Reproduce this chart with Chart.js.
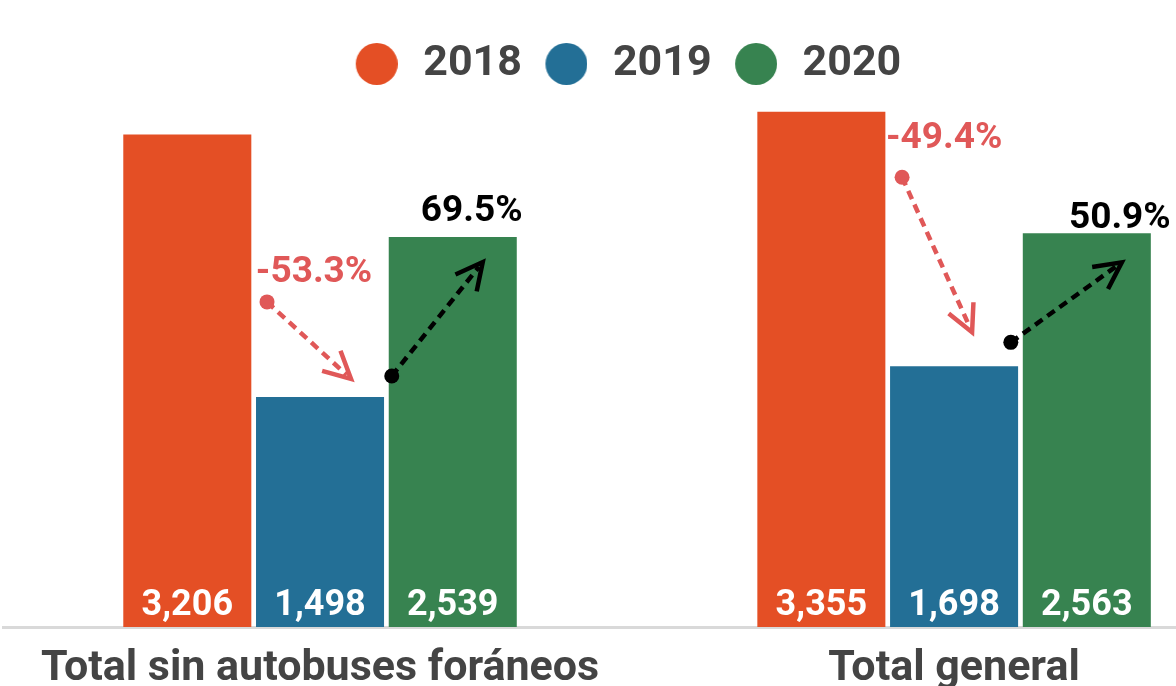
<!DOCTYPE html>
<html><head><meta charset="utf-8">
<script src="https://cdn.jsdelivr.net/npm/chart.js@4"></script>
<style>html,body{margin:0;padding:0;background:#fff;overflow:hidden}#wrap{width:1176px;height:686px;position:relative}</style>
</head><body><div id="wrap"><canvas id="c"></canvas></div>
<script>
const categories = ['Total sin autobuses foráneos', 'Total general'];
const categoryPositions = [0, 1];
const seriesLabels = ['2018', '2019', '2020'];
const values2018 = [3206, 3355];
const values2019 = [1498, 1698];
const values2020 = [2539, 2563];
const seriesColors = ['#E44F25', '#236F96', '#378350'];

const FONT = 'Roboto, "Liberation Sans", sans-serif';
const TEXT = '#444444';

// annotation placement (pixel offsets relative to bar centre/top), style only
const dropMarks = [
  {text: [-6, -124], dot: [-53, -95], tip: [31, -18]},
  {text: [-10, -227], dot: [-52, -189], tip: [18, -34]}
];
const riseMarks = [
  {text: [19, -25], dot: [-61, 139], tip: [30, 25]},
  {text: [33, -15], dot: [-76, 109], tip: [35, 29]}
];

function toPoints(vals) { return vals.map((v, i) => ({x: categoryPositions[i], y: v})); }
const allSeries = [values2018, values2019, values2020];

function circleImage(color) {
  const c = document.createElement('canvas');
  c.width = 50; c.height = 42;
  const g = c.getContext('2d');
  g.fillStyle = color;
  g.beginPath(); g.arc(29, 21, 21, 0, Math.PI * 2); g.fill();
  return c;
}

const datasets = allSeries.map((vals, k) => ({
  label: seriesLabels[k],
  data: toPoints(vals),
  backgroundColor: seriesColors[k],
  borderWidth: 0,
  pointStyle: circleImage(seriesColors[k]),
  categoryPercentage: 0.628,
  barPercentage: 0.9646
}));

function pctText(a, b) {
  const p = (b / a - 1) * 100;
  return p.toFixed(1) + '%';
}

function drawArrow(ctx, x1, y1, x2, y2, color) {
  ctx.save();
  ctx.strokeStyle = color; ctx.fillStyle = color;
  ctx.lineWidth = 4.5;
  ctx.beginPath(); ctx.arc(x1, y1, 7.5, 0, Math.PI * 2); ctx.fill();
  const ang = Math.atan2(y2 - y1, x2 - x1);
  const ex = x2 - Math.cos(ang) * 6, ey = y2 - Math.sin(ang) * 6;
  ctx.setLineDash([9, 6]);
  ctx.beginPath(); ctx.moveTo(x1, y1); ctx.lineTo(ex, ey); ctx.stroke();
  ctx.setLineDash([]);
  const L = 30, a = 0.47;
  ctx.lineCap = 'butt'; ctx.lineJoin = 'miter';
  ctx.beginPath();
  ctx.moveTo(x2 - L * Math.cos(ang - a), y2 - L * Math.sin(ang - a));
  ctx.lineTo(x2, y2);
  ctx.lineTo(x2 - L * Math.cos(ang + a), y2 - L * Math.sin(ang + a));
  ctx.stroke();
  ctx.restore();
}

const annotations = {
  id: 'annotations',
  afterDatasetsDraw(chart) {
    const ctx = chart.ctx;
    const m = [0, 1, 2].map(k => chart.getDatasetMeta(k).data);
    ctx.save();
    ctx.fillStyle = '#ffffff';
    ctx.font = 'bold 36px ' + FONT;
    ctx.textAlign = 'center'; ctx.textBaseline = 'alphabetic';
    allSeries.forEach((vals, k) => {
      vals.forEach((v, i) => {
        const b = m[k][i];
        ctx.fillText(v.toLocaleString('en-US'), b.x, b.base - 12);
      });
    });
    ctx.restore();
    categories.forEach((c, i) => {
      const b19 = m[1][i], b20 = m[2][i];
      const d = dropMarks[i], r = riseMarks[i];
      ctx.save();
      ctx.font = 'bold 37px ' + FONT;
      ctx.textAlign = 'center'; ctx.textBaseline = 'middle';
      ctx.fillStyle = '#E05858';
      ctx.fillText(pctText(values2018[i], values2019[i]), b19.x + d.text[0], b19.y + d.text[1]);
      ctx.fillStyle = '#000000';
      ctx.fillText(pctText(values2019[i], values2020[i]), b20.x + r.text[0], b20.y + r.text[1]);
      ctx.restore();
      drawArrow(ctx, b19.x + d.dot[0], b19.y + d.dot[1], b19.x + d.tip[0], b19.y + d.tip[1], '#E05858');
      drawArrow(ctx, b20.x + r.dot[0], b20.y + r.dot[1], b20.x + r.tip[0], b20.y + r.tip[1], '#000000');
    });
  }
};

const legendShift = {
  id: 'legendShift',
  afterLayout(chart) {
    const lg = chart.legend;
    if (lg) { lg.left += 33; lg.right += 33; lg.top += 1; lg.bottom += 1; }
  }
};

new Chart(document.getElementById('c'), {
  type: 'bar',
  data: {datasets},
  plugins: [legendShift, annotations],
  options: {
    responsive: true,
    maintainAspectRatio: false,
    animation: false,
    devicePixelRatio: 1,
    layout: {padding: {top: 30, left: 3, right: 0, bottom: 0}},
    plugins: {
      tooltip: {enabled: false},
      legend: {
        position: 'top',
        labels: {
          usePointStyle: true,
          pointStyleWidth: 58,
          boxHeight: 42,
          padding: 11.5,
          color: TEXT,
          font: {family: FONT, size: 43, weight: 'bold'}
        }
      }
    },
    scales: {
      x: {
        type: 'linear',
        min: -0.5,
        max: 1.35,
        offset: false,
        afterBuildTicks: s => { s.ticks = categoryPositions.map(v => ({value: v})); },
        afterFit: s => { s.height = 59; s.paddingLeft = 0; s.paddingRight = 0; },
        grid: {display: false, drawTicks: false},
        border: {display: true, color: '#D9D9D9', width: 3},
        ticks: {
          padding: 16,
          color: TEXT,
          maxRotation: 0,
          autoSkip: false,
          font: {family: FONT, size: 43, weight: 'bold'},
          callback: v => categories[categoryPositions.indexOf(v)]
        }
      },
      y: {
        display: false,
        min: 0,
        max: 3467,
        grid: {display: false}
      }
    }
  }
});
</script></body></html>
